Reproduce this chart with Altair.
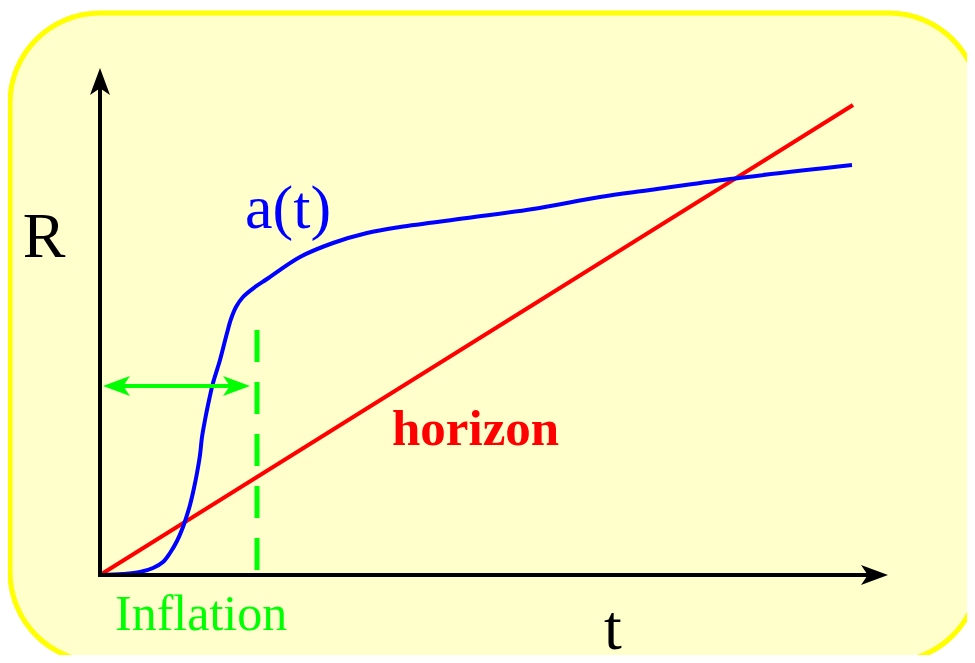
import altair as alt
import pandas as pd

# ---- data (t, R units; origin at axes corner) ----
a_t = [0.00, 0.23, 0.40, 0.53, 0.63, 0.70, 0.77, 0.83, 0.87, 0.90, 0.94, 0.97, 1.00, 1.02, 1.05,
       1.08, 1.13, 1.20, 1.27, 1.31, 1.36, 1.43, 1.55, 1.67, 2.00, 2.33, 2.67, 3.00, 3.67, 4.33,
       5.00, 5.50, 6.30, 7.52]
a_R = [0.00, 0.01, 0.03, 0.07, 0.13, 0.22, 0.34, 0.48, 0.60, 0.70, 0.87, 1.02, 1.20, 1.38, 1.55,
       1.70, 1.92, 2.15, 2.42, 2.56, 2.68, 2.78, 2.88, 2.96, 3.18, 3.32, 3.42, 3.48, 3.57, 3.66,
       3.78, 3.85, 3.96, 4.10]
horizon_t = [0.0, 7.53]
horizon_R = [0.0, 4.70]
inflation_end = 1.57
inflation_top = 2.45
arrow_R = 1.89
arrow_left = 0.03
arrow_right = 1.50
t_axis_end = 7.88
R_axis_end = 5.07

labels = ["R", "a(t)", "t", "Inflation", "horizon"]
label_t = [-0.56, 1.45, 5.13, 0.15, 2.92]
label_R = [3.18, 3.47, -0.74, -0.55, 1.30]

# ---- layout ----
W, H = 959, 647
xs = alt.Scale(domain=[-0.92, 8.67], nice=False, zero=False)
ys = alt.Scale(domain=[-0.80, 5.67], nice=False, zero=False)
X = lambda f: alt.X(f, type="quantitative", scale=xs, axis=None)
Y = lambda f: alt.Y(f, type="quantitative", scale=ys, axis=None)

ARROW = "M0,0 L0.37,1 L0,0.75 L-0.37,1 Z"
SERIF = "Liberation Serif"

bg = alt.Chart(pd.DataFrame({"x": [-0.90], "x2": [8.79], "y": [5.62], "y2": [-0.87]})).mark_rect(
    fill="#FFFFCC", stroke="#FFFF00", strokeWidth=5, cornerRadius=90
).encode(x=X("x"), x2="x2", y=Y("y"), y2="y2")

axes_df = pd.DataFrame({"x": [0.0, 0.0], "x2": [t_axis_end - 0.2, 0.0],
                        "y": [0.0, 0.0], "y2": [0.0, R_axis_end - 0.2]})
axes = alt.Chart(axes_df).mark_rule(color="black", strokeWidth=4, strokeCap="square").encode(
    x=X("x"), x2="x2", y=Y("y"), y2="y2")

heads_df = pd.DataFrame({"x": [0.0, t_axis_end], "y": [R_axis_end, 0.0], "ang": [0, 90]})
heads = alt.Chart(heads_df).mark_point(shape=ARROW, size=2916, filled=True, color="black",
                                       opacity=1, strokeWidth=0).encode(
    x=X("x"), y=Y("y"), angle=alt.Angle("ang:Q", scale=None))

horizon = alt.Chart(pd.DataFrame({"t": horizon_t, "R": horizon_R})).mark_line(
    color="#FF0000", strokeWidth=4).encode(x=X("t"), y=Y("R"))

curve = alt.Chart(pd.DataFrame({"t": a_t, "R": a_R})).mark_line(
    color="#0000FF", strokeWidth=4, interpolate="catmull-rom").encode(x=X("t"), y=Y("R"))

dashed = alt.Chart(pd.DataFrame({"x": [inflation_end], "y": [inflation_top], "y2": [0.0]})).mark_rule(
    color="#00FF00", strokeWidth=5, strokeDash=[32, 20], strokeCap="butt").encode(
    x=X("x"), y=Y("y"), y2="y2")

garrow = alt.Chart(pd.DataFrame({"x": [arrow_left + 0.15], "x2": [arrow_right - 0.15],
                                 "y": [arrow_R]})).mark_rule(
    color="#00FF00", strokeWidth=4).encode(x=X("x"), x2="x2", y=Y("y"))

gheads = alt.Chart(pd.DataFrame({"x": [arrow_left, arrow_right], "y": [arrow_R, arrow_R],
                                 "ang": [270, 90]})).mark_point(
    shape=ARROW, size=2916, filled=True, color="#00FF00", opacity=1, strokeWidth=0).encode(
    x=X("x"), y=Y("y"), angle=alt.Angle("ang:Q", scale=None))

lab_df = pd.DataFrame({"label": labels, "t": label_t, "R": label_R})

def text(lbl, color, size, align, weight=400):
    return alt.Chart(lab_df[lab_df.label == lbl]).mark_text(
        font=SERIF, fontSize=size, color=color, align=align, baseline="alphabetic",
        fontWeight=weight, fontStyle="normal").encode(
        x=X("t"), y=Y("R"), text=alt.value(lbl))

texts = (text("R", "black", 64, "center") + text("a(t)", "#0000FF", 62, "left")
         + text("t", "black", 64, "center") + text("Inflation", "#00FF00", 50, "left")
         + text("horizon", "#FF0000", 51, "left", 700))

chart = alt.layer(bg, horizon, curve, dashed, garrow, gheads, axes, heads, texts).properties(
    width=W, height=H, autosize=alt.AutoSizeParams(type="none"), padding=0,
    background="white").configure_view(stroke=None)

chart.save("out.html", embed_options={"renderer": "svg", "actions": False})
